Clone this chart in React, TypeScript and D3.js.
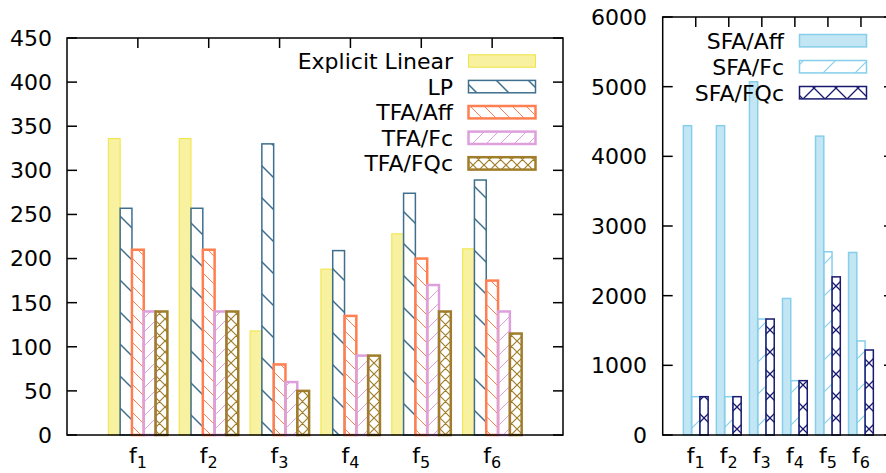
import React from 'react';
import * as d3 from 'd3';

const categories = ['1', '2', '3', '4', '5', '6'];
const leftNames = ['Explicit Linear', 'LP', 'TFA/Aff', 'TFA/Fc', 'TFA/FQc'];
const explicitLinear = [336, 336, 118, 188, 228, 211];
const lp = [257, 257, 330, 209, 274, 289];
const tfaAff = [210, 210, 80, 135, 200, 175];
const tfaFc = [140, 140, 60, 90, 170, 140];
const tfaFQc = [140, 140, 50, 90, 140, 115];
const rightNames = ['SFA/Aff', 'SFA/Fc', 'SFA/FQc'];
const sfaAff = [4440, 4440, 5070, 1960, 4290, 2620];
const sfaFc = [550, 550, 1665, 780, 2630, 1350];
const sfaFQc = [550, 550, 1665, 780, 2270, 1220];
const leftTicks = [0, 50, 100, 150, 200, 250, 300, 350, 400, 450];
const rightTicks = [0, 1000, 2000, 3000, 4000, 5000, 6000];

type Style = { fill: string; stroke: string; sw: number };

const leftStyles: Style[] = [
  { fill: '#f7f1a0', stroke: '#f0e442', sw: 1 },
  { fill: 'url(#patLP)', stroke: '#3f6f8f', sw: 1.5 },
  { fill: 'url(#patAff)', stroke: '#ff7f50', sw: 2.5 },
  { fill: 'url(#patFc)', stroke: '#dda0dd', sw: 2.5 },
  { fill: 'url(#patFQc)', stroke: '#a07d2a', sw: 2.5 },
];
const rightStyles: Style[] = [
  { fill: '#c3e6f5', stroke: '#87ceeb', sw: 1.5 },
  { fill: 'url(#patSFc)', stroke: '#87ceeb', sw: 1.5 },
  { fill: 'url(#patSFQc)', stroke: '#191970', sw: 1.5 },
];

const FONT = 'DejaVu Sans, sans-serif';
const FS = 22;

function back(P: number) {
  return `M0,0 L${P},${P} M${P - 1},-1 L${P + 1},1 M-1,${P - 1} L1,${P + 1}`;
}
function fwd(P: number) {
  return `M0,${P} L${P},0 M-1,1 L1,-1 M${P - 1},${P + 1} L${P + 1},${P - 1}`;
}

function Pattern({ id, P, d, color, w }: { id: string; P: number; d: string; color: string; w: number }) {
  return (
    <pattern id={id} patternUnits="userSpaceOnUse" width={P} height={P} x={0} y={0}>
      <path d={d} stroke={color} strokeWidth={w} fill="none" />
    </pattern>
  );
}

export default function App() {
  const leftSeries = [explicitLinear, lp, tfaAff, tfaFc, tfaFQc];
  const rightSeries = [sfaAff, sfaFc, sfaFQc];

  const xL = d3.scaleLinear().domain([0, 7]).range([67, 563]);
  const yL = d3.scaleLinear().domain([0, 450]).range([435, 38]);
  const xR = d3.scaleLinear().domain([0, 7]).range([662.7, 894]);
  const yR = d3.scaleLinear().domain([0, 6000]).range([435, 17]);

  const nL = leftSeries.length;
  const bwL = 1 / (nL + 1);
  const nR = rightSeries.length;
  const bwR = 1 / (nR + 1);

  const tickLen = 10;

  const xLabel = (x: number, y: number, c: string, key: string) => (
    <text key={key} x={x} y={y} textAnchor="middle" fontFamily={FONT} fontSize={FS} fill="#000">
      <tspan>f</tspan>
      <tspan fontSize={16} dy={5}>{c}</tspan>
    </text>
  );

  return (
    <svg width={886} height={473} style={{ position: 'absolute', left: 0, top: 0, background: '#fff' }}>
      <defs>
        <Pattern id="patLP" P={32} d={back(32)} color="#3f6f8f" w={1.5} />
        <Pattern id="patAff" P={14} d={back(14)} color="#ff7f50" w={1} />
        <Pattern id="patFc" P={14} d={fwd(14)} color="#dda0dd" w={1} />
        <Pattern id="patFQc" P={11} d={back(11) + ' ' + fwd(11)} color="#a07d2a" w={1.2} />
        <Pattern id="patSFc" P={32} d={fwd(32)} color="#87ceeb" w={1.2} />
        <Pattern id="patSFQc" P={22} d={back(22) + ' ' + fwd(22)} color="#191970" w={1.3} />
      </defs>

      {leftSeries.map((vals, s) => (
        <g key={'ls' + s}>
          {vals.map((v, i) => {
            const c = i + 1;
            const x0 = xL(c - (nL * bwL) / 2 + s * bwL);
            const x1 = xL(c - (nL * bwL) / 2 + (s + 1) * bwL);
            const st = leftStyles[s];
            return (
              <rect key={i} x={x0} y={yL(v)} width={x1 - x0} height={yL(0) - yL(v)}
                fill={st.fill} stroke={st.stroke} strokeWidth={st.sw} />
            );
          })}
        </g>
      ))}

      {rightSeries.map((vals, s) => (
        <g key={'rs' + s}>
          {vals.map((v, i) => {
            const c = i + 1;
            const x0 = xR(c - (nR * bwR) / 2 + s * bwR);
            const x1 = xR(c - (nR * bwR) / 2 + (s + 1) * bwR);
            const st = rightStyles[s];
            return (
              <rect key={i} x={x0} y={yR(v)} width={x1 - x0} height={yR(0) - yR(v)}
                fill={st.fill} stroke={st.stroke} strokeWidth={st.sw} />
            );
          })}
        </g>
      ))}

      <g stroke="#000" strokeWidth={1.5} fill="none">
        <rect x={xL(0)} y={yL(450)} width={xL(7) - xL(0)} height={yL(0) - yL(450)} />
        {leftTicks.map((t) => (
          <g key={'lt' + t}>
            <line x1={xL(0)} x2={xL(0) + tickLen} y1={yL(t)} y2={yL(t)} />
            <line x1={xL(7)} x2={xL(7) - tickLen} y1={yL(t)} y2={yL(t)} />
          </g>
        ))}
        {categories.map((c, i) => (
          <line key={'lxt' + c} x1={xL(i + 1)} x2={xL(i + 1)} y1={yL(450)} y2={yL(450) + tickLen} />
        ))}
      </g>
      {leftTicks.map((t) => (
        <text key={'ltl' + t} x={52} y={yL(t)} dy="0.36em" textAnchor="end" fontFamily={FONT} fontSize={FS} fill="#000">
          {t}
        </text>
      ))}
      {categories.map((c, i) => xLabel(xL(i + 1), 463, c, 'lxl' + c))}

      <g stroke="#000" strokeWidth={1.5} fill="none">
        <rect x={xR(0)} y={yR(6000)} width={xR(7) - xR(0)} height={yR(0) - yR(6000)} />
        {rightTicks.map((t) => (
          <g key={'rt' + t}>
            <line x1={xR(0)} x2={xR(0) + tickLen} y1={yR(t)} y2={yR(t)} />
            <line x1={xR(7)} x2={xR(7) - tickLen} y1={yR(t)} y2={yR(t)} />
          </g>
        ))}
        {categories.map((c, i) => (
          <line key={'rxt' + c} x1={xR(i + 1)} x2={xR(i + 1)} y1={yR(6000)} y2={yR(6000) + tickLen} />
        ))}
      </g>
      {rightTicks.map((t) => (
        <text key={'rtl' + t} x={647} y={yR(t)} dy="0.36em" textAnchor="end" fontFamily={FONT} fontSize={FS} fill="#000">
          {t}
        </text>
      ))}
      {categories.map((c, i) => xLabel(xR(i + 1), 463, c, 'rxl' + c))}

      {leftNames.map((name, s) => {
        const cy = 61 + s * 25.6;
        const st = leftStyles[s];
        return (
          <g key={'lg' + s}>
            <text x={453} y={cy} dy="0.36em" textAnchor="end" fontFamily={FONT} fontSize={FS} fill="#000">{name}</text>
            <rect x={468.5} y={cy - 6.2} width={67} height={12.4} fill={st.fill} stroke={st.stroke} strokeWidth={st.sw} />
          </g>
        );
      })}

      {rightNames.map((name, s) => {
        const cy = 40.7 + s * 26;
        const st = rightStyles[s];
        return (
          <g key={'rg' + s}>
            <text x={784} y={cy} dy="0.36em" textAnchor="end" fontFamily={FONT} fontSize={FS} fill="#000">{name}</text>
            <rect x={799.5} y={cy - 6.2} width={67} height={12.4} fill={st.fill} stroke={st.stroke} strokeWidth={st.sw} />
          </g>
        );
      })}
    </svg>
  );
}
